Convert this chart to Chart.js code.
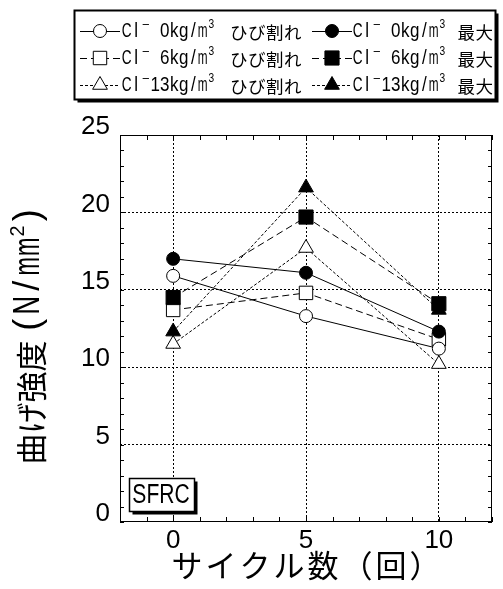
<!DOCTYPE html>
<html>
<head>
<meta charset="utf-8">
<script src="https://cdn.jsdelivr.net/npm/chart.js@4.4.0/dist/chart.umd.min.js"></script>
<style>
  html, body { margin: 0; padding: 0; background: #fff; }
  canvas { display: block; }
</style>
</head>
<body>
<canvas id="chart" width="503" height="589"></canvas>
<script>
// ── Data ──────────────────────────────────────────────────────
const cycles  = [0, 5, 10];
const crack0  = [15.9, 13.3, 11.2];
const crack6  = [13.7, 14.8, 11.8];
const crack13 = [11.5, 17.7, 10.2];
const max0    = [17.0, 16.1, 12.3];
const max6    = [14.5, 19.7, 14.1];
const max13   = [12.3, 21.6, 13.7];

const xTicks = [0, 5, 10];
const yTicks = [0, 5, 10, 15, 20, 25];

const xTitle = 'サイクル数（回）';
const yTitleJa = '曲げ強度';
const yTitleUnit = '(N/mm²)';
const tag    = 'SFRC';

const X_MIN = -2, X_MAX = 12, Y_MIN = 0, Y_MAX = 25;

const SANS = "'Liberation Sans', Arial, sans-serif";
const CJK  = "'Noto Sans CJK JP', sans-serif";

const SOLID = [];
const DASH  = [7, 4];
const DOT   = [3, 2];

// series: top-most first (Chart.js draws index 0 last)
const series = [
  { label: 'Cl⁻ 6kg/m³ 最大',    data: max6,    dash: DASH,  style: 'rect',     r: 10,  fill: '#000' },
  { label: 'Cl⁻ 0kg/m³ 最大',    data: max0,    dash: SOLID, style: 'circle',   r: 6.5, fill: '#000' },
  { label: 'Cl⁻13kg/m³ 最大',    data: max13,   dash: DOT,   style: 'triangle', r: 8.5, fill: '#000' },
  { label: 'Cl⁻ 0kg/m³ ひび割れ', data: crack0,  dash: SOLID, style: 'circle',   r: 6.5, fill: '#fff' },
  { label: 'Cl⁻ 6kg/m³ ひび割れ', data: crack6,  dash: DASH,  style: 'rect',     r: 9.5, fill: '#fff' },
  { label: 'Cl⁻13kg/m³ ひび割れ', data: crack13, dash: DOT,   style: 'triangle', r: 8.5, fill: '#fff' },
];

// legend grid: [series index, column, row]
const legendCells = [
  [3, 0, 0], [4, 0, 1], [5, 0, 2],
  [1, 1, 0], [0, 1, 1], [2, 1, 2],
];

// ── Helpers ───────────────────────────────────────────────────
function isCJK(ch) { return ch.charCodeAt(0) > 0x2fff; }

// draw text squeezed horizontally, centred on cx
function glyph(ctx, ch, cx, y, font, sx) {
  ctx.save();
  ctx.translate(cx, y);
  ctx.scale(sx, 1);
  ctx.font = font;
  ctx.fillText(ch, 0, 0);
  ctx.restore();
}

// monospace-like run: half-width cells for latin, full-width for CJK
function drawRun(ctx, str, x, y, cjkX) {
  ctx.textBaseline = 'middle';
  ctx.textAlign = 'center';
  const half = 9.5;
  for (const ch of str) {
    if (isCJK(ch)) {
      if (cjkX != null && x < cjkX) x = cjkX;
      ctx.font = `17.5px ${CJK}`;
      ctx.fillText(ch, x + 8.75, y + 1);
      x += 18;
      continue;
    }
    if (ch === '⁻') {
      glyph(ctx, '−', x + half / 2, y - 6, `13px ${SANS}`, 1);
    } else if (ch === '³') {
      glyph(ctx, '3', x + half / 2 - 1, y - 6, `12px ${SANS}`, 0.85);
    } else if (ch !== ' ') {
      const font = `20px ${SANS}`;
      ctx.font = font;
      const w = ctx.measureText(ch).width;
      glyph(ctx, ch, x + half / 2, y, font, Math.min(0.85, 9.8 / w));
    }
    x += half;
  }
}

function shadowBox(ctx, x, y, w, h, off, lw) {
  ctx.fillStyle = '#000';
  ctx.fillRect(x + off, y + off, w, h);
  ctx.fillStyle = '#fff';
  ctx.fillRect(x, y, w, h);
  ctx.strokeStyle = '#000';
  ctx.lineWidth = lw;
  ctx.strokeRect(x, y, w, h);
}

function marker(ctx, s, x, y) {
  ctx.save();
  ctx.setLineDash([]);
  ctx.fillStyle = s.fill;
  ctx.strokeStyle = '#000';
  ctx.lineWidth = 1;
  Chart.helpers.drawPoint(ctx, { pointStyle: s.style, radius: s.r, rotation: 0, borderWidth: 1 }, x, y);
  ctx.restore();
}

// ── Decorations: frame, inner ticks, legend, tag, titles ──────
const decor = {
  id: 'decor',
  beforeDatasetsDraw(chart) {
    const { ctx, chartArea: a, scales: { x, y } } = chart;
    ctx.save();
    ctx.strokeStyle = '#000';
    ctx.lineWidth = 1;
    ctx.beginPath();
    x.ticks.forEach(t => {
      const px = Math.round(x.getPixelForValue(t.value)) + 0.5;
      ctx.moveTo(px, a.top);    ctx.lineTo(px, a.top + 5);
      ctx.moveTo(px, a.bottom); ctx.lineTo(px, a.bottom - 5);
    });
    y.ticks.forEach(t => {
      const py = Math.round(y.getPixelForValue(t.value)) + 0.5;
      ctx.moveTo(a.left, py);  ctx.lineTo(a.left + 4, py);
      ctx.moveTo(a.right, py); ctx.lineTo(a.right - 4, py);
    });
    ctx.stroke();
    ctx.strokeRect(Math.round(a.left) + 0.5, Math.round(a.top) + 0.5,
                   Math.round(a.right - a.left) - 1, Math.round(a.bottom - a.top) - 1);
    ctx.restore();
  },
  afterDraw(chart) {
    const { ctx } = chart;
    ctx.save();

    // legend
    shadowBox(ctx, 74.5, 10.5, 421, 89, 3, 2);
    const colLine = [80, 312], colText = [122, 353], colCjk = [230, 454];
    const rowY = [31, 58, 85];
    legendCells.forEach(([si, c, r]) => {
      const s = series[si], yy = rowY[r];
      ctx.save();
      ctx.strokeStyle = '#000';
      ctx.lineWidth = 1;
      ctx.setLineDash(s.dash);
      ctx.beginPath();
      ctx.moveTo(colLine[c], yy + 0.5);
      ctx.lineTo(colLine[c] + 40, yy + 0.5);
      ctx.stroke();
      ctx.restore();
      marker(ctx, s, colLine[c] + 20, yy);
      ctx.fillStyle = '#000';
      drawRun(ctx, s.label, colText[c], yy, colCjk[c]);
    });

    // SFRC tag
    shadowBox(ctx, 129.5, 478.5, 65, 33, 3, 1.5);
    ctx.fillStyle = '#000';
    ctx.textAlign = 'center';
    ctx.textBaseline = 'middle';
    glyph(ctx, tag, 161, 496, `27px ${SANS}`, 0.78);

    // x title
    ctx.font = `31px ${CJK}`;
    ctx.letterSpacing = '3px';
    ctx.fillText(xTitle, 307.5, 565);
    ctx.letterSpacing = '0px';

    // y title (rotated): CJK part, then monospace-like unit cells
    ctx.translate(29, 335);
    ctx.rotate(-Math.PI / 2);
    ctx.textBaseline = 'middle';
    ctx.textAlign = 'center';
    const jaW = 31 * yTitleJa.length;
    const cells = [...yTitleUnit].map(ch => ch === '²' ? 12 : 19.5);
    const unitW = cells.reduce((s, w) => s + w, 0) + 6;
    let xx = -(jaW + unitW) / 2;
    ctx.font = `31px ${CJK}`;
    for (const ch of yTitleJa) { ctx.fillText(ch, xx + 15.5, 2); xx += 31; }
    xx += 6;
    [...yTitleUnit].forEach((ch, i) => {
      const sup = ch === '²';
      const font = sup ? `21px ${SANS}` : `36px ${SANS}`;
      ctx.font = font;
      const w = ctx.measureText(sup ? '2' : ch).width;
      glyph(ctx, sup ? '2' : ch, xx + cells[i] / 2, sup ? -11 : 0, font, Math.min(1, (cells[i] - 1) / w));
      xx += cells[i];
    });
    ctx.restore();
  },
};

// ── Chart ─────────────────────────────────────────────────────
const majorGrid = (ctx, lo, hi, ticks) =>
  ticks.includes(ctx.tick.value) && ctx.tick.value > lo && ctx.tick.value < hi ? '#000' : 'rgba(0,0,0,0)';

new Chart(document.getElementById('chart'), {
  type: 'line',
  data: {
    datasets: series.map(s => ({
      label:                s.label,
      data:                 cycles.map((c, i) => ({ x: c, y: s.data[i] })),
      borderColor:          '#000',
      borderWidth:          1,
      borderDash:           s.dash,
      pointStyle:           s.style,
      pointRadius:          s.r,
      pointBackgroundColor: s.fill,
      pointBorderColor:     '#000',
      pointBorderWidth:     1,
      tension:              0,
      fill:                 false,
    })),
  },
  options: {
    responsive: false,
    animation: false,
    devicePixelRatio: 1,
    layout: { padding: { top: 135, right: 1, left: 0, bottom: 0 } },
    plugins: { legend: { display: false }, tooltip: { enabled: false } },
    scales: {
      x: {
        type: 'linear', min: X_MIN, max: X_MAX,
        afterFit: s => { s.height = 67; },
        ticks: {
          stepSize: 1, autoSkip: false, maxRotation: 0, padding: 3,
          color: '#000', font: { family: SANS, size: 26 },
          callback: v => xTicks.includes(v) ? String(v) : '',
        },
        grid: { drawTicks: false, lineWidth: 1, color: c => majorGrid(c, X_MIN, X_MAX, xTicks) },
        border: { display: false, dash: [2, 2] },
      },
      y: {
        type: 'linear', min: Y_MIN, max: Y_MAX,
        afterFit: s => { s.width = 120; },
        ticks: {
          stepSize: 1, autoSkip: false, padding: 10, labelOffset: -8,
          color: '#000', font: { family: SANS, size: 26 },
          callback: v => yTicks.includes(v) ? String(v) : '',
        },
        grid: { drawTicks: false, lineWidth: 1, color: c => majorGrid(c, Y_MIN, Y_MAX, yTicks) },
        border: { display: false, dash: [2, 2] },
      },
    },
  },
  plugins: [decor],
});
</script>
</body>
</html>
